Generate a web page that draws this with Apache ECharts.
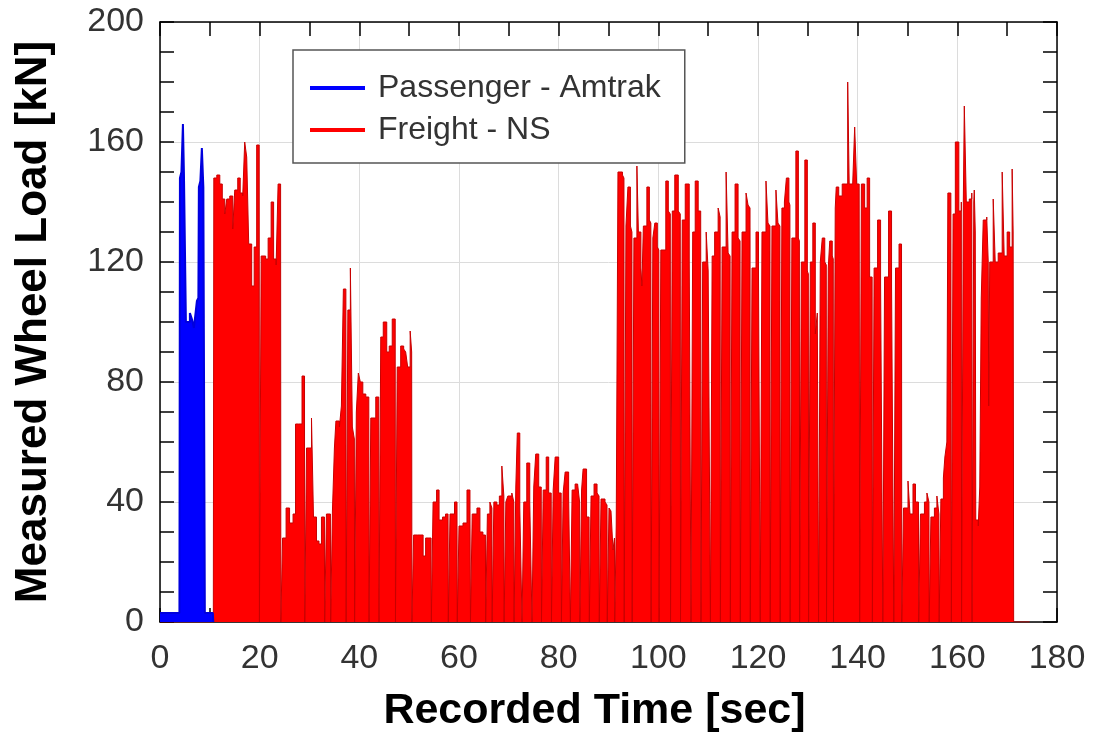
<!DOCTYPE html>
<html>
<head>
<meta charset="utf-8">
<script src="https://cdn.jsdelivr.net/npm/echarts@6/dist/echarts.min.js"></script>
<style>
  html, body { margin: 0; padding: 0; background: #fff; }
  #main { width: 1093px; height: 734px; }
</style>
</head>
<body>
<div id="main"></div>
<script>
// axis settings
var xTicks = [0, 180, 20];   // min, max, step
var yTicks = [0, 200, 40];

// Amtrak passenger train, [time sec, load kN]
var passengerLoad = [
  [0, 3], [3.9, 3], [4.0, 148], [4.3, 150], [4.6, 166], [4.8, 150], [5.2, 100], [5.5, 100],
  [6.0, 103], [6.4, 101], [6.8, 98], [7.2, 104], [7.4, 107], [7.7, 108], [7.8, 145], [8.1, 147],
  [8.4, 158], [8.7, 145], [9.0, 3], [10.6, 3], [10.7, 0]
];

// NS freight train, [time sec, load kN]  (0 = gap between axles)
var freightLoad = [
  [0, 0], [10.7, 0],
  [10.8, 148], [11.4, 149], [12.0, 146], [12.5, 141], [13.0, 136], [13.4, 141], [14.0, 142], [14.6, 131],
  [15.0, 144], [15.6, 148], [16.1, 143], [16.6, 142], [17.0, 160], [17.4, 155], [17.8, 126], [18.4, 112],
  [18.9, 125], [19.4, 159], [19.9, 150],
  [19.95, 0], [20.25, 0],
  [20.3, 122], [21.2, 121], [21.7, 128], [22.3, 140], [22.8, 121], [23.3, 119], [23.7, 146], [24.2, 141],
  [24.25, 0], [24.55, 0],
  [24.6, 28], [25.3, 38], [26.0, 33], [26.7, 36], [27.2, 66], [27.8, 66], [28.5, 82], [29.0, 60],
  [29.05, 0], [29.35, 0],
  [29.4, 58], [30.4, 68], [30.8, 35], [31.4, 27], [31.9, 26], [32.4, 35], [33.0, 23],
  [33.05, 0], [33.35, 0],
  [33.4, 36], [34.2, 33],
  [34.25, 0], [34.55, 0],
  [34.6, 37], [35.0, 58], [35.3, 67], [36.0, 65], [36.4, 72], [36.8, 111], [37.3, 98],
  [37.35, 0], [37.65, 0],
  [37.7, 104], [38.2, 118], [38.6, 65], [39.0, 61],
  [39.05, 0], [39.35, 0],
  [39.4, 70], [39.8, 83], [40.2, 80], [40.7, 76], [41.3, 75], [41.9, 72],
  [41.95, 0], [42.25, 0],
  [42.3, 68], [43.3, 75], [43.9, 68],
  [43.95, 0], [44.25, 0],
  [44.3, 95], [44.8, 100], [45.5, 90], [46.0, 92], [46.6, 101], [47.2, 88],
  [47.25, 0], [47.55, 0],
  [47.6, 85], [48.3, 92], [48.9, 91], [49.3, 90], [49.7, 85], [50.2, 97], [50.5, 90],
  [50.55, 0], [50.85, 0],
  [50.9, 29], [51.7, 29], [52.2, 29], [52.8, 22], [53.3, 28], [53.8, 28], [54.4, 22],
  [54.45, 0], [54.75, 0],
  [54.8, 40], [55.5, 44], [56.0, 34], [56.7, 35], [57.3, 36], [57.8, 35],
  [57.85, 0], [58.15, 0],
  [58.2, 36], [59.1, 40], [59.6, 36],
  [59.65, 0], [59.95, 0],
  [60.0, 32], [60.8, 33], [61.6, 44], [62.2, 38],
  [62.3, 0], [62.6, 0],
  [62.65, 36], [63.6, 38], [64.2, 30], [64.8, 29], [65.3, 29],
  [65.35, 0], [65.65, 0],
  [65.7, 36], [66.2, 40], [66.6, 38],
  [66.65, 0], [66.95, 0],
  [67.0, 40], [67.6, 39], [68.1, 42], [68.6, 52], [69.0, 42],
  [69.05, 0], [69.35, 0],
  [69.4, 40], [69.8, 42], [70.6, 43], [71.0, 40],
  [71.05, 0], [71.35, 0],
  [71.4, 45], [71.7, 63], [72.2, 38], [72.6, 38],
  [72.65, 0], [72.95, 0],
  [73.0, 40], [73.6, 53], [74.2, 40], [74.6, 40],
  [74.65, 0], [74.95, 0],
  [75.0, 45], [75.4, 56], [76.0, 45], [76.5, 44],
  [76.55, 0], [76.85, 0],
  [76.9, 44], [77.5, 55], [78.0, 43], [78.5, 43],
  [78.55, 0], [78.85, 0],
  [78.9, 44], [79.3, 55], [80.0, 43], [80.5, 42],
  [80.55, 0], [80.85, 0],
  [80.9, 43], [81.3, 50], [82.0, 42], [82.3, 42],
  [82.35, 0], [82.65, 0],
  [82.7, 44], [83.3, 46], [83.8, 46], [84.2, 40],
  [84.25, 0], [84.55, 0],
  [84.6, 44], [84.9, 51], [85.6, 35], [86.1, 35],
  [86.15, 0], [86.45, 0],
  [86.5, 42], [87.1, 46], [87.7, 43], [88.1, 42],
  [88.15, 0], [88.45, 0],
  [88.5, 41], [88.9, 41], [89.3, 40], [89.7, 39],
  [89.75, 0], [90.05, 0],
  [90.1, 38], [90.5, 37], [90.9, 24], [91.2, 28],
  [91.25, 0], [91.5, 0],
  [91.55, 32], [91.9, 150], [92.3, 150], [92.8, 149], [93.1, 148],
  [93.15, 0], [93.45, 0],
  [93.5, 132], [93.9, 145], [94.4, 132], [94.7, 130],
  [94.75, 0], [95.05, 0],
  [95.1, 128], [95.7, 152], [96.0, 130], [96.5, 118], [96.7, 112], [97.0, 132], [97.7, 145], [98.2, 134], [98.5, 133],
  [98.55, 0], [98.85, 0],
  [98.9, 128], [99.3, 133], [99.8, 125], [100.1, 124],
  [100.15, 0], [100.45, 0],
  [100.5, 124], [100.9, 124], [101.5, 147], [102.0, 137], [102.4, 136],
  [102.45, 0], [102.75, 0],
  [102.8, 137], [103.3, 149], [104.0, 137], [104.4, 136],
  [104.45, 0], [104.75, 0],
  [104.8, 134], [105.4, 146], [106.2, 121], [106.5, 121],
  [106.55, 0], [106.85, 0],
  [106.9, 130], [107.4, 147], [108.0, 137], [108.5, 136],
  [108.55, 0], [108.85, 0],
  [108.9, 120], [109.6, 130], [110.0, 117], [110.4, 117],
  [110.45, 0], [110.75, 0],
  [110.8, 122], [111.3, 130], [112.0, 138], [112.4, 135],
  [112.45, 0], [112.75, 0],
  [112.8, 125], [113.6, 150], [114.0, 123], [114.4, 122],
  [114.45, 0], [114.75, 0],
  [114.8, 130], [115.4, 146], [116.0, 128], [116.4, 127],
  [116.45, 0], [116.75, 0],
  [116.8, 130], [117.6, 143], [118.0, 139], [118.4, 138],
  [118.45, 0], [118.75, 0],
  [118.8, 118], [119.6, 130], [120.1, 116], [120.4, 116],
  [120.45, 0], [120.75, 0],
  [120.8, 130], [121.6, 147], [122.0, 133], [122.4, 132],
  [122.45, 0], [122.75, 0],
  [122.8, 132], [123.6, 144], [124.0, 133], [124.4, 132],
  [124.45, 0], [124.75, 0],
  [124.8, 138], [125.3, 140], [125.7, 148], [126.2, 140], [126.4, 139],
  [126.45, 0], [126.75, 0],
  [126.8, 128], [127.2, 128], [127.6, 157], [128.1, 128], [128.3, 127],
  [128.35, 0], [128.65, 0],
  [128.7, 120], [129.1, 120], [129.4, 154], [129.9, 117], [130.1, 116],
  [130.15, 0], [130.45, 0],
  [130.5, 120], [131.0, 133], [131.5, 96], [131.9, 103], [132.1, 103],
  [132.15, 0], [132.45, 0],
  [132.5, 120], [132.9, 128], [133.4, 120], [133.7, 119],
  [133.75, 0], [134.05, 0],
  [134.1, 118], [134.4, 127], [134.9, 122], [135.1, 121],
  [135.15, 0], [135.45, 0],
  [135.5, 138], [135.7, 145], [136.2, 142], [136.9, 146], [137.5, 146], [138.0, 180], [138.3, 146],
  [139.0, 146], [139.4, 165], [139.8, 146], [140.3, 146],
  [140.4, 0], [140.7, 0],
  [140.75, 146], [141.4, 138], [141.9, 148], [142.4, 115], [142.9, 115],
  [142.95, 0], [143.25, 0],
  [143.3, 118], [144.0, 134], [144.6, 113], [145.0, 113],
  [145.05, 0], [145.35, 0],
  [145.4, 115], [146.2, 137], [146.8, 112], [147.2, 112],
  [147.25, 0], [147.55, 0],
  [147.6, 118], [148.3, 126], [148.8, 120],
  [148.85, 0], [149.15, 0],
  [149.2, 38], [150.1, 47], [150.5, 36], [151.1, 46], [151.6, 40], [152.2, 35],
  [152.25, 0], [152.55, 0],
  [152.6, 36], [153.4, 40], [153.9, 43], [154.3, 40],
  [154.35, 0], [154.65, 0],
  [154.7, 35], [155.4, 38], [155.9, 42], [156.3, 36],
  [156.35, 0], [156.65, 0],
  [156.7, 41], [157.2, 48], [157.5, 55], [157.9, 60], [158.1, 143], [158.7, 142],
  [158.8, 0], [159.1, 0],
  [159.15, 136], [159.6, 160], [160.3, 137], [160.8, 140],
  [160.85, 0], [161.15, 0],
  [161.2, 140], [161.4, 172], [161.8, 140], [162.4, 141], [162.9, 143],
  [162.95, 0], [163.25, 0],
  [163.3, 140], [163.4, 144], [163.6, 130], [163.7, 34], [164.2, 32], [164.5, 45], [164.8, 108], [165.2, 134],
  [165.9, 135], [166.2, 120], [166.3, 72], [166.5, 120], [167.2, 141], [167.6, 120], [168.2, 123],
  [169.0, 150], [169.4, 122], [170.0, 130], [170.5, 125], [171.0, 151], [171.2, 130], [171.3, 0], [174.5, 0]
];

var font = 'Liberation Sans, Arial, sans-serif';
var chart = echarts.init(document.getElementById('main'));

function makeAxis(t, pos, labels) {
  return {
    type: 'value',
    position: pos,
    min: t[0], max: t[1], interval: t[2],
    axisLine: { show: true, onZero: false, lineStyle: { color: '#000', width: 1.5 } },
    axisTick: { show: true, inside: true, length: 14, lineStyle: { color: '#000', width: 1.5 } },
    minorTick: { show: true, splitNumber: t[2] === 20 ? 2 : 4, length: 14, lineStyle: { color: '#000', width: 1.5 } },
    splitLine: { show: labels, lineStyle: { color: '#dcdcdc', width: 1 } },
    axisLabel: { show: labels, fontSize: 34, color: '#333', fontFamily: font, margin: 16 }
  };
}

var xBottom = makeAxis(xTicks, 'bottom', true);
xBottom.name = 'Recorded Time [sec]';
xBottom.nameLocation = 'middle';
xBottom.nameGap = 68;
xBottom.nameTextStyle = { fontSize: 43, fontWeight: 'bold', color: '#000', fontFamily: font, padding: [0, 28, 0, 0] };
xBottom.axisLabel.margin = 20;

var yLeft = makeAxis(yTicks, 'left', true);
yLeft.name = 'Measured Wheel Load [kN]';
yLeft.nameLocation = 'middle';
yLeft.nameGap = 104;
yLeft.nameTextStyle = { fontSize: 44, fontWeight: 'bold', color: '#000', fontFamily: font };

var option = {
  animation: false,
  backgroundColor: '#fff',
  grid: { left: 160, right: 36, top: 22, bottom: 112, outerBoundsMode: 'none' },
  legend: {
    orient: 'vertical',
    left: 293, top: 50,
    padding: [20, 24, 15, 17],
    itemWidth: 55, itemHeight: 4, itemGap: 6,
    icon: 'rect',
    backgroundColor: '#fff',
    borderColor: '#555', borderWidth: 1.5,
    textStyle: { fontSize: 32, color: '#333', fontFamily: font, lineHeight: 36, padding: [0, 0, 0, 8] },
    data: ['Passenger - Amtrak', 'Freight - NS']
  },
  xAxis: [xBottom, makeAxis(xTicks, 'top', false)],
  yAxis: [yLeft, makeAxis(yTicks, 'right', false)],
  series: [
    {
      name: 'Passenger - Amtrak',
      type: 'line',
      step: 'end',
      data: passengerLoad,
      z: 3,
      color: '#0000ff',
      showSymbol: false,
      lineStyle: { color: '#0000dd', width: 2 },
      areaStyle: { color: '#0000ff', opacity: 1 }
    },
    {
      name: 'Freight - NS',
      type: 'line',
      step: 'end',
      data: freightLoad,
      z: 2,
      color: '#ff0000',
      showSymbol: false,
      lineStyle: { color: '#c80000', width: 1 },
      areaStyle: { color: '#ff0000', opacity: 1 }
    }
  ]
};

chart.setOption(option);
</script>
</body>
</html>
